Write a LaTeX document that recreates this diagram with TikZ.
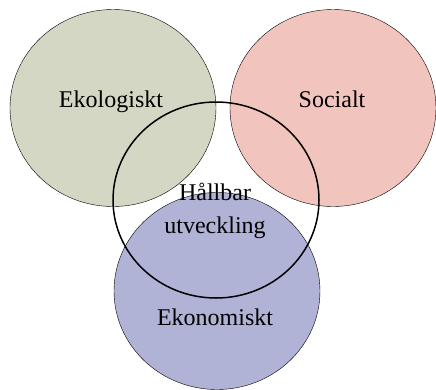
\documentclass[tikz,border=0pt]{standalone}
\usepackage{fontspec}
\setmainfont{Liberation Serif}
\usetikzlibrary{shapes.geometric}

\definecolor{ekogreen}{RGB}{212,215,196}
\definecolor{socpink}{RGB}{242,196,190}
\definecolor{ekonblue}{RGB}{176,179,214}

\begin{document}
\begin{tikzpicture}[x=1pt, y=-1pt, font=\fontsize{24}{33}\selectfont]
	
	\useasboundingbox (0,0) rectangle (436,389);
	
	\begin{scope}[every node/.style={draw,ellipse,thin,minimum width=206pt,minimum height=197pt,inner sep=0pt}]
		\node[fill=ekogreen] (eko) at (113,108) {};
		\node[fill=socpink] (soc) at (333,108) {};
		\node[fill=ekonblue] (ekon) at (217,291) {};
	\end{scope}
	
	\begin{scope}[every node/.style={anchor=base}]
		\node (ekolabel) at (111,107) {Ekologiskt};
		\node (soclabel) at (332,107) {Socialt};
		\node (ekonlabel) at (215,325) {Ekonomiskt};
	\end{scope}
	
	\node[draw,ellipse,line width=1.5pt,minimum width=206pt,minimum height=196pt,inner sep=0pt] (hallbar) at (216,200) {};
	\node[align=center] (hallbarlabel) at (215,211) {Hållbar\\utveckling};
	
\end{tikzpicture}
\end{document}
